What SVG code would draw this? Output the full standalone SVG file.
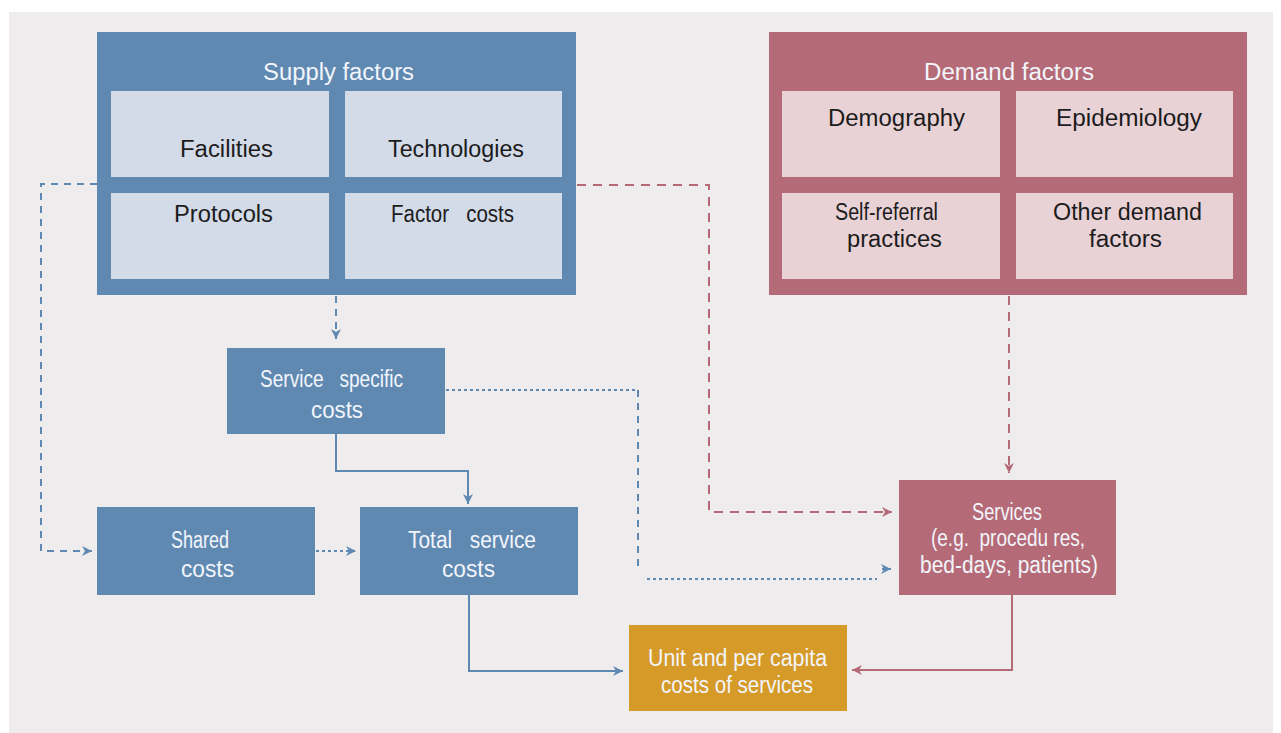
<svg xmlns="http://www.w3.org/2000/svg" width="1281" height="733" viewBox="0 0 1281 733">
<style>
  text { font-family: "Liberation Sans", Arial, sans-serif; font-size: 23px; white-space: pre; }
  .lt { fill: #F2F5FA; }
  .dk { fill: #1C1C1C; }
  .sup { fill: #6089B2; }
  .supc { fill: #D3DAE8; }
  .dem { fill: #B56B77; }
  .demc { fill: #E8D2D6; }
  .org { fill: #D69A28; }
  .cb { fill: none; stroke: #5F89B3; stroke-width: 2; }
  .cr { fill: none; stroke: #B56B77; stroke-width: 2; }
  .dash { stroke-dasharray: 7 6; }
  .rdash { stroke-dasharray: 9 7; }
  .dot { stroke-dasharray: 3 3; }
</style>
<defs>
  <marker id="ab" viewBox="0 0 10 10" refX="10" refY="5" markerWidth="10" markerHeight="10" markerUnits="userSpaceOnUse" orient="auto">
    <path d="M0,0 L10,5 L0,10 L3,5 z" fill="#5F89B3"/>
  </marker>
  <marker id="ar" viewBox="0 0 10 10" refX="10" refY="5" markerWidth="10" markerHeight="10" markerUnits="userSpaceOnUse" orient="auto">
    <path d="M0,0 L10,5 L0,10 L3,5 z" fill="#B56B77"/>
  </marker>
</defs>
<rect x="0" y="0" width="1281" height="733" fill="#FFFFFF"/>
<rect x="9" y="12" width="1264" height="721" fill="#EEECED"/>

<g id="connectors">
  <path class="cb dash" d="M97,184 H41 V551 H92" marker-end="url(#ab)"/>
  <path class="cb dash" d="M336,296 V339" marker-end="url(#ab)"/>
  <path class="cr rdash" d="M577,185 H709 V512 H892" marker-end="url(#ar)"/>
  <path class="cr rdash" d="M1009,296 V473" marker-end="url(#ar)"/>
  <path class="cb dot" d="M446,390 H638"/>
  <path class="cb dash" d="M638,390 V569 H641"/>
  <path class="cb dot" d="M647,579 H877"/>
  <path class="cb" d="M882,569 H891" marker-end="url(#ab)"/>
  <path class="cb dot" d="M316,551 H356" marker-end="url(#ab)"/>
  <path class="cb" d="M336,434 V471 H468 V504" marker-end="url(#ab)"/>
  <path class="cb" d="M469,595 V671 H623" marker-end="url(#ab)"/>
  <path class="cr" d="M1012,595 V670 H852" marker-end="url(#ar)"/>
</g>

<g id="supply-factors">
  <rect class="sup" x="97" y="32" width="479" height="263"/>
  <text class="lt" x="263" y="80" textLength="151" lengthAdjust="spacingAndGlyphs">Supply factors</text>
  <g id="facilities">
    <rect class="supc" x="111" y="91" width="218" height="86"/>
    <text class="dk" x="180" y="157" textLength="93" lengthAdjust="spacingAndGlyphs">Facilities</text>
  </g>
  <g id="technologies">
    <rect class="supc" x="345" y="91" width="217" height="86"/>
    <text class="dk" x="388" y="157" textLength="136" lengthAdjust="spacingAndGlyphs">Technologies</text>
  </g>
  <g id="protocols">
    <rect class="supc" x="111" y="193" width="218" height="86"/>
    <text class="dk" x="174" y="222" textLength="99" lengthAdjust="spacingAndGlyphs">Protocols</text>
  </g>
  <g id="factor-costs">
    <rect class="supc" x="345" y="193" width="217" height="86"/>
    <text class="dk" x="391" y="222" textLength="123" lengthAdjust="spacingAndGlyphs">Factor   costs</text>
  </g>
</g>

<g id="demand-factors">
  <rect class="dem" x="769" y="32" width="478" height="263"/>
  <text class="lt" x="924" y="80" textLength="170" lengthAdjust="spacingAndGlyphs">Demand factors</text>
  <g id="demography">
    <rect class="demc" x="782" y="91" width="218" height="86"/>
    <text class="dk" x="828" y="126" textLength="137" lengthAdjust="spacingAndGlyphs">Demography</text>
  </g>
  <g id="epidemiology">
    <rect class="demc" x="1016" y="91" width="217" height="86"/>
    <text class="dk" x="1056" y="126" textLength="146" lengthAdjust="spacingAndGlyphs">Epidemiology</text>
  </g>
  <g id="self-referral">
    <rect class="demc" x="782" y="193" width="218" height="86"/>
    <text class="dk" x="835" y="220" textLength="103" lengthAdjust="spacingAndGlyphs">Self-referral</text>
    <text class="dk" x="847" y="247" textLength="95" lengthAdjust="spacingAndGlyphs">practices</text>
  </g>
  <g id="other-demand">
    <rect class="demc" x="1016" y="193" width="217" height="86"/>
    <text class="dk" x="1053" y="220" textLength="149" lengthAdjust="spacingAndGlyphs">Other demand</text>
    <text class="dk" x="1089" y="247" textLength="73" lengthAdjust="spacingAndGlyphs">factors</text>
  </g>
</g>

<g id="service-specific-costs">
  <rect class="sup" x="227" y="348" width="218" height="86"/>
  <text class="lt" x="260" y="387" textLength="143" lengthAdjust="spacingAndGlyphs">Service   specific</text>
  <text class="lt" x="311" y="418" textLength="52" lengthAdjust="spacingAndGlyphs">costs</text>
</g>

<g id="shared-costs">
  <rect class="sup" x="97" y="507" width="218" height="88"/>
  <text class="lt" x="171" y="548" textLength="58" lengthAdjust="spacingAndGlyphs">Shared</text>
  <text class="lt" x="181" y="577" textLength="53" lengthAdjust="spacingAndGlyphs">costs</text>
</g>

<g id="total-service-costs">
  <rect class="sup" x="360" y="507" width="218" height="88"/>
  <text class="lt" x="408" y="548" textLength="128" lengthAdjust="spacingAndGlyphs">Total   service</text>
  <text class="lt" x="442" y="577" textLength="53" lengthAdjust="spacingAndGlyphs">costs</text>
</g>

<g id="services">
  <rect class="dem" x="899" y="480" width="217" height="115"/>
  <text class="lt" x="972" y="520" font-size="22" textLength="70" lengthAdjust="spacingAndGlyphs">Services</text>
  <text class="lt" x="931" y="546" font-size="22" textLength="154" lengthAdjust="spacingAndGlyphs">(e.g.  procedu res,</text>
  <text class="lt" x="920" y="573" font-size="22" textLength="178" lengthAdjust="spacingAndGlyphs">bed-days, patients)</text>
</g>

<g id="unit-costs">
  <rect class="org" x="629" y="625" width="218" height="86"/>
  <text class="lt" x="648" y="666" textLength="179" lengthAdjust="spacingAndGlyphs">Unit and per capita</text>
  <text class="lt" x="661" y="693" textLength="152" lengthAdjust="spacingAndGlyphs">costs of services</text>
</g>
</svg>
